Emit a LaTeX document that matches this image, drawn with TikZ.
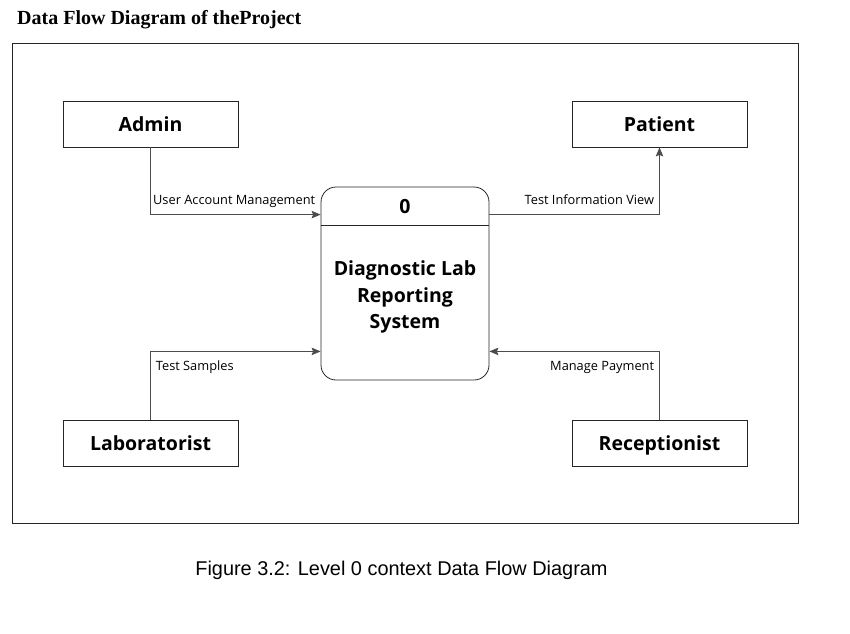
\documentclass[tikz,border=0pt]{standalone}
\usepackage{fontspec}
\setmainfont{Liberation Serif}
\newfontfamily\diafont{Open Sans}
\newfontfamily\capfont{Liberation Sans}
\usetikzlibrary{calc, arrows.meta, positioning}

\begin{document}
\begin{tikzpicture}[x=1pt, y=-1pt, >={Stealth[length=9pt, width=7.5pt, inset=1.5pt]}]
% We define the styles for the boxes and the flows
 \tikzset{
entity/.style = {draw=black!85, rectangle, line width=0.8pt, minimum height=46pt, minimum width=175pt, text height=16pt, text depth=2pt, font=\diafont\bfseries\fontsize{19.5}{24}\selectfont},
process/.style = {draw=black!85, rectangle, rounded corners=15pt, line width=0.8pt, minimum height=193pt, minimum width=168pt},
flow/.style = {draw=black!70, ->, line width=0.8pt},
flowlabel/.style = {black, font=\diafont\fontsize{12.8}{15}\selectfont, inner sep=2pt, text height=10pt, text depth=3pt},
}
 \useasboundingbox (0,0) rectangle (850,633);

 % Title and frame
 \node [anchor=base west, font=\bfseries\fontsize{20}{24}\selectfont, inner sep=0pt] (title) at (17,24) {Data Flow Diagram of theProject};
 \draw [black!85, line width=0.8pt] (12,43) rectangle (798,523);

 % External entities
 \node [entity] (admin) at (150.5,124) {Admin};
 \node [entity] (patient) at (659.5,124) {Patient};
 \node [entity] (lab) at (150.5,443.5) {Laboratorist};
 \node [entity] (recep) at (659.5,443.5) {Receptionist};

 % Process block
 \node [process] (proc) at (405,283.5) {};
 \coordinate (divl) at ([yshift=-39pt]proc.north west);
 \coordinate (divr) at ([yshift=-39pt]proc.north east);
 \draw [black!85, line width=0.8pt] (divl) -- (divr);
 \node [font=\diafont\bfseries\fontsize{19.5}{24}\selectfont] (procid) at ($(proc.north)!0.5!(proc.north |- divl)$) {0};
 \node [align=center, font=\diafont\bfseries\fontsize{19.5}{26.5}\selectfont] (procname) at ([yshift=-13.5pt]proc.center) {Diagnostic Lab\\Reporting\\System};

 % Flows and labels
 \draw [flow] (admin.south) |- ([yshift=-28pt]proc.north west) node[at end, above left, flowlabel, xshift=-3pt, yshift=5pt] {User Account Management};
 \draw [flow] ([yshift=-28pt]proc.north east) -| (patient.south) node[pos=0.5, above left, flowlabel, xshift=-3pt, yshift=5pt] {Test Information View};
 \draw [flow] (lab.north) |- ([yshift=29pt]proc.south west) node[pos=0.5, below right, flowlabel, xshift=3pt, yshift=-6.5pt] {Test Samples};
 \draw [flow] (recep.north) |- ([yshift=29pt]proc.south east) node[pos=0.5, below left, flowlabel, xshift=-3pt, yshift=-6.5pt] {Manage Payment};

 % Caption
 \node [anchor=base, font=\capfont\fontsize{19.9}{24}\selectfont, inner sep=0pt] (caption) at (401.5,575) {Figure 3.2: Level 0 context Data Flow Diagram};

\end{tikzpicture}
\end{document}
